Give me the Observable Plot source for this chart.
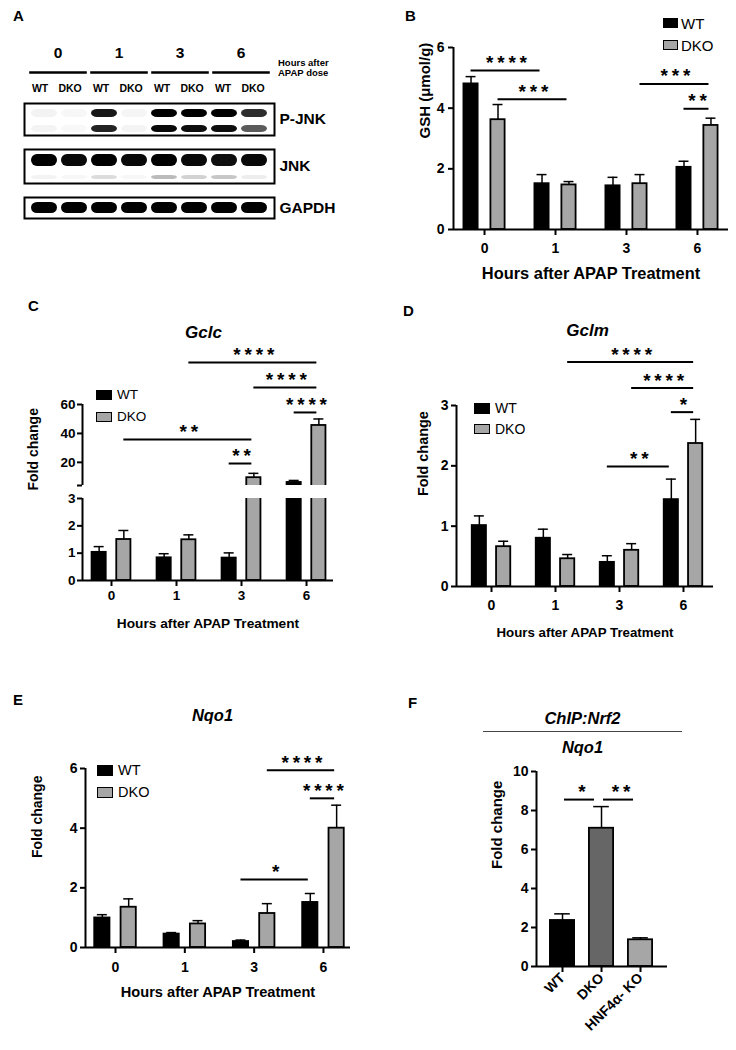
<!DOCTYPE html>
<html>
<head>
<meta charset="utf-8">
<script src="https://cdn.jsdelivr.net/npm/d3@7"></script>
<script src="https://cdn.jsdelivr.net/npm/@observablehq/plot@0.6"></script>
<style>
  html, body { margin: 0; padding: 0; background: #fff; }
  #fig { position: relative; width: 736px; height: 1050px; overflow: hidden; font-family: "Liberation Sans", Arial, Helvetica, sans-serif; color: #000; }
  .lbl { position: absolute; font-weight: bold; line-height: 1; white-space: nowrap; }
</style>
</head>
<body>
<div id="fig"></div>
<script>
// ---------------- data ----------------
const hours = ["0", "1", "3", "6"];
const genotypes = ["WT", "DKO"];
const genoColors = ["#000000", "#a6a6a6"];
const xTitle = "Hours after APAP Treatment";

// Panel A: western blot band intensities, lanes in order 0-WT,0-DKO,1-WT,...,6-DKO
const pJnkUpper = [0.06, 0.03, 0.92, 0.04, 1.0, 1.0, 1.0, 0.85];
const pJnkLower = [0.05, 0.02, 0.88, 0.05, 0.97, 0.95, 0.95, 0.7];
const jnkMain   = [1.0, 0.97, 1.0, 0.97, 1.0, 0.97, 0.95, 0.97];
const jnkLower  = [0.06, 0.03, 0.2, 0.03, 0.35, 0.25, 0.3, 0.1];
const gapdh     = [1.0, 1.0, 1.0, 1.0, 1.0, 1.0, 1.0, 1.0];

// Panel B: GSH (umol/g)
const gshWT = [4.8, 1.51, 1.44, 2.05];
const gshWTsem = [0.24, 0.3, 0.28, 0.2];
const gshDKO = [3.62, 1.47, 1.51, 3.43];
const gshDKOsem = [0.5, 0.11, 0.3, 0.24];
const sigB = [
  {from: ["0", "WT"], to: ["1", "WT"], level: 5.24, label: "****"},
  {from: ["0", "DKO"], to: ["1", "DKO"], level: 4.29, label: "***"},
  {from: ["3", "DKO"], to: ["6", "DKO"], level: 4.8, label: "***"},
  {from: ["6", "WT"], to: ["6", "DKO"], level: 3.98, label: "**"}
];

// Panel C: Gclc fold change
const gclcWT = [1.03, 0.83, 0.82, 6.1];
const gclcWTsem = [0.21, 0.15, 0.19, 1.4];
const gclcDKO = [1.5, 1.49, 9.4, 45.5];
const gclcDKOsem = [0.33, 0.18, 3.0, 4.5];
const sigC = [
  {from: ["1", "DKO"], to: ["6", "DKO"], level: 89, label: "****"},
  {from: ["3", "DKO"], to: ["6", "DKO"], level: 71.8, label: "****"},
  {from: ["6", "WT"], to: ["6", "DKO"], level: 54.5, label: "****"},
  {from: ["0", "DKO"], to: ["3", "DKO"], level: 35.8, label: "**"},
  {from: ["3", "WT"], to: ["3", "DKO"], level: 19.2, label: "**"}
];

// Panel D: Gclm fold change
const gclmWT = [1.01, 0.8, 0.4, 1.44];
const gclmWTsem = [0.16, 0.15, 0.11, 0.34];
const gclmDKO = [0.66, 0.46, 0.6, 2.37];
const gclmDKOsem = [0.09, 0.07, 0.11, 0.4];
const sigD = [
  {from: ["1", "DKO"], to: ["6", "DKO"], level: 3.72, label: "****"},
  {from: ["3", "DKO"], to: ["6", "DKO"], level: 3.29, label: "****"},
  {from: ["6", "WT"], to: ["6", "DKO"], level: 2.89, label: "*"},
  {from: ["3", "WT"], to: ["6", "WT"], level: 1.99, label: "**"}
];

// Panel E: Nqo1 fold change
const nqoWT = [0.99, 0.45, 0.2, 1.51];
const nqoWTsem = [0.11, 0.05, 0.05, 0.3];
const nqoDKO = [1.35, 0.79, 1.14, 4.0];
const nqoDKOsem = [0.28, 0.11, 0.33, 0.77];
const sigE = [
  {from: ["3", "DKO"], to: ["6", "DKO"], level: 5.94, label: "****"},
  {from: ["6", "WT"], to: ["6", "DKO"], level: 5.0, label: "****"},
  {from: ["3", "WT"], to: ["6", "WT"], level: 2.28, label: "*"}
];

// Panel F: ChIP Nrf2 on Nqo1
const chipGroups = ["WT", "DKO", "HNF4\u03b1- KO"];
const chipColors = ["#000000", "#666666", "#a6a6a6"];
const chipMean = [2.36, 7.09, 1.37];
const chipSem = [0.34, 1.11, 0.1];
const sigF = [
  {from: "WT", to: "DKO", level: 8.56, label: "*"},
  {from: "DKO", to: "HNF4\u03b1- KO", level: 8.56, label: "**"}
];

// ---------------- helpers ----------------
const FONT = '"Liberation Sans", Arial, Helvetica, sans-serif';
const fig = document.getElementById("fig");
const svgStyle = (fs) => ({background: "transparent", overflow: "visible", fontFamily: FONT, fontSize: fs + "px", fontWeight: "bold", color: "#000"});
function place(el, left, top) {
  el.style.position = "absolute";
  el.style.left = left + "px";
  el.style.top = top + "px";
  fig.appendChild(el);
  return el;
}
function label(text, left, top, size, extra = "") {
  const d = document.createElement("div");
  d.className = "lbl";
  d.style.cssText += `left:${left}px;top:${top}px;font-size:${size}px;${extra}`;
  d.innerHTML = text;
  fig.appendChild(d);
  return d;
}
function addLegend(left, top, gap, swW, swH, font, textGap) {
  genotypes.forEach((g, i) => {
    const row = document.createElement("div");
    row.style.cssText = `position:absolute;left:${left}px;top:${top + i * gap}px;height:${swH}px;display:flex;align-items:center;font-size:${font}px;font-family:${FONT};white-space:nowrap;`;
    const sw = document.createElement("span");
    sw.style.cssText = `display:inline-block;flex:none;width:${swW}px;height:${swH}px;background:${genoColors[i]};border:1.5px solid #000;box-sizing:border-box;`;
    const tx = document.createElement("span");
    tx.textContent = g;
    tx.style.cssText = `margin-left:${textGap}px;line-height:1;`;
    row.append(sw, tx);
    fig.appendChild(row);
  });
}
const off = {WT: -0.19, DKO: 0.19};
const groupedRows = (wt, wtSem, dko, dkoSem) => hours.flatMap((h, i) => [
  {key: h, geno: "WT", mean: wt[i], err: wtSem[i]},
  {key: h, geno: "DKO", mean: dko[i], err: dkoSem[i]}
]);
const gPos = (d) => hours.indexOf(d.key) + off[d.geno];
const gSigPos = (k) => hours.indexOf(k[0]) + off[k[1]];
const starText = (s) => s.split("").join("\u2009");

function barChart(c) {
  const {rows, pos, sigPos, fillKey = "geno", color, hw, capW, xDomain, yDomain, yTicks,
    yTickFormat = (d) => d, width, height, m, tickFont, yTickPadding = 4,
    xTicks = null, xTickFormat, xTickPadding = 6, xTickRotate = 0,
    sig = [], sigInsetL = 0, sigInsetR = 2, titles = [], xLabel = null, xLabelDy, xLabelFont,
    yLabel = null, yLabelDx, yLabelDy = 0, yLabelFont, clip = false, rowFilter = () => true} = c;
  const data = rows.filter(rowFilter);
  const marks = [
    Plot.rectY(data, {x1: (d) => pos(d) - hw, x2: (d) => pos(d) + hw, y1: 0, y2: "mean", fill: fillKey, stroke: "#000", strokeWidth: 1.8, clip}),
    Plot.ruleX(data, {x: pos, y1: "mean", y2: (d) => d.mean + d.err, strokeWidth: 1.5, clip}),
    Plot.ruleY(data, {y: (d) => d.mean + d.err, x1: (d) => pos(d) - capW, x2: (d) => pos(d) + capW, strokeWidth: 1.5, clip}),
    Plot.ruleX([xDomain[0]], {y1: yDomain[0], y2: yDomain[1], strokeWidth: 2}),
    Plot.axisY(yTicks, {tickSize: 5, tickPadding: yTickPadding, tickFormat: yTickFormat, strokeWidth: 2, fontSize: tickFont, label: null})
  ];
  if (xTicks) {
    marks.push(Plot.ruleY([yDomain[0]], {strokeWidth: 2}));
    marks.push(Plot.axisX(xTicks, {tickSize: 6, tickPadding: xTickPadding, tickFormat: xTickFormat, tickRotate: xTickRotate, strokeWidth: 2, fontSize: tickFont, label: null}));
  }
  if (sig.length) {
    marks.push(Plot.ruleY(sig, {y: "level", x1: (d) => sigPos(d.from), x2: (d) => sigPos(d.to), strokeWidth: 2, insetLeft: sigInsetL, insetRight: sigInsetR}));
    marks.push(Plot.text(sig, {x: (d) => (sigPos(d.from) + sigPos(d.to)) / 2, y: "level", text: (d) => starText(d.label), lineAnchor: "bottom", dy: -1.5, fontSize: 19}));
  }
  for (const t of titles) {
    marks.push(Plot.text([t.text], {text: (d) => d, frameAnchor: "top", dx: t.dx, dy: t.dy, fontSize: t.size, fontStyle: "italic", lineAnchor: "middle"}));
  }
  if (xLabel) marks.push(Plot.text([xLabel], {text: (d) => d, frameAnchor: "bottom", dy: xLabelDy, fontSize: xLabelFont, lineAnchor: "middle"}));
  if (yLabel) marks.push(Plot.text([yLabel], {text: (d) => d, frameAnchor: "left", dx: yLabelDx, dy: yLabelDy, rotate: -90, fontSize: yLabelFont, lineAnchor: "middle"}));
  return Plot.plot({
    width, height,
    marginTop: m[0], marginRight: m[1], marginBottom: m[2], marginLeft: m[3],
    style: svgStyle(tickFont),
    x: {domain: xDomain, axis: xTicks ? undefined : null, label: null},
    y: {domain: yDomain, label: null},
    color: color,
    marks
  });
}

// ---------------- Panel A ----------------
const lanes = hours.flatMap((h) => genotypes.map((g) => ({hour: h, geno: g, id: `${h}-${g}`})));
const laneIds = lanes.map((d) => d.id);
const shade = (v) => d3.interpolateGreys(0.04 + 0.96 * v);

const header = Plot.plot({
  width: 280, height: 65,
  marginLeft: 26.9, marginRight: 8.9, marginTop: 35, marginBottom: 28,
  style: svgStyle(10.5),
  fx: {domain: hours, padding: 0, axis: null, label: null},
  x: {type: "band", domain: genotypes, paddingInner: 0.1, paddingOuter: 0.05, axis: null, label: null},
  marks: [
    Plot.frame({anchor: "bottom", insetLeft: 3, insetRight: 3, strokeWidth: 2.6}),
    Plot.text(hours, {fx: (d) => d, text: (d) => d, frameAnchor: "top", dy: -17, fontSize: 15.5, lineAnchor: "middle"}),
    Plot.text(lanes, {fx: "hour", x: "geno", text: "geno", frameAnchor: "bottom", dx: -3, dy: 16, fontSize: 10.5, lineAnchor: "middle"})
  ]
});
place(header, 0, 35);

function blot({rowsSpec, height, mT, mB, name}) {
  const marks = rowsSpec.map((r) => Plot.cell(lanes, {
    x: "id", y: () => r.row, fill: (d, i) => shade(r.values[i]),
    insetTop: r.insetTop, insetBottom: r.insetBottom, insetLeft: 0, insetRight: 0, rx: 6
  }));
  marks.push(Plot.frame({stroke: "#000", strokeWidth: 2}));
  marks.push(Plot.text([name], {text: (d) => d, frameAnchor: "right", dx: 5, textAnchor: "start", fontSize: 15.5, lineAnchor: "middle"}));
  return Plot.plot({
    width: 340, height, marginLeft: 24, marginRight: 66, marginTop: mT, marginBottom: mB,
    style: svgStyle(15),
    x: {domain: laneIds, paddingInner: 0.15, paddingOuter: 0.17, axis: null, label: null},
    y: {domain: rowsSpec.map((r) => r.row), padding: 0, axis: null, label: null},
    marks
  });
}
place(blot({name: "P-JNK", height: 50, mT: 8, mB: 10, rowsSpec: [
  {row: "upper", values: pJnkUpper, insetTop: 6, insetBottom: 2},
  {row: "lower", values: pJnkLower, insetTop: 6, insetBottom: 3}
]}), 0, 95);
place(blot({name: "JNK", height: 50, mT: 9, mB: 7, rowsSpec: [
  {row: "main", values: jnkMain, insetTop: 5, insetBottom: 0},
  {row: "lower", values: jnkLower, insetTop: 9, insetBottom: 4}
]}), 0, 140);
place(blot({name: "GAPDH", height: 35, mT: 7, mB: 7, rowsSpec: [
  {row: "gapdh", values: gapdh, insetTop: 5, insetBottom: 5}
]}), 0, 190);
label("Hours after<br>APAP dose", 278, 58, 9.5, "line-height:10px;");

// ---------------- Panel B ----------------
const genoColor = {domain: genotypes, range: genoColors};
place(barChart({
  rows: groupedRows(gshWT, gshWTsem, gshDKO, gshDKOsem), pos: gPos, sigPos: gSigPos, color: genoColor,
  hw: 0.1, capW: 0.07, xDomain: [-0.437, 3.437], yDomain: [0, 6], yTicks: [0, 2, 4, 6],
  width: 336, height: 290, m: [47, 8, 61, 53], tickFont: 14, yTickPadding: 4,
  xTicks: [0, 1, 2, 3], xTickFormat: (i) => hours[i], xTickPadding: 8,
  sig: sigB, xLabel: xTitle, xLabelDy: 44, xLabelFont: 16.4,
  yLabel: "GSH (\u03bcmol/g)", yLabelDx: -28, yLabelFont: 15
}), 400, 0);
addLegend(663, 18, 22, 15, 10, 15, 3);

// ---------------- Panel C (broken axis) ----------------
const gclcRows = groupedRows(gclcWT, gclcWTsem, gclcDKO, gclcDKOsem);
place(barChart({
  rows: gclcRows, pos: gPos, sigPos: gSigPos, color: genoColor, rowFilter: (d) => d.mean > 4, clip: true,
  hw: 0.109, capW: 0.077, xDomain: [-0.446, 3.415], yDomain: [4, 60], yTicks: [4, 20, 40, 60],
  yTickFormat: (d) => (d === 4 ? "" : d), yTickPadding: 2,
  width: 340, height: 200, m: [114, 7, 5, 82], tickFont: 13.5,
  sig: sigC, titles: [{text: "Gclc", dx: -4.5, dy: -72, size: 17}]
}), 0, 290);
place(barChart({
  rows: gclcRows, pos: gPos, sigPos: gSigPos, color: genoColor, clip: true,
  hw: 0.109, capW: 0.077, xDomain: [-0.446, 3.415], yDomain: [0, 3], yTicks: [0, 1, 2, 3], yTickPadding: 2,
  width: 340, height: 160, m: [8, 7, 70, 82], tickFont: 13.5,
  xTicks: [0, 1, 2, 3], xTickFormat: (i) => hours[i], xTickPadding: 4,
  xLabel: xTitle, xLabelDy: 43, xLabelFont: 13.7,
  yLabel: "Fold change", yLabelDx: -49, yLabelDy: -49, yLabelFont: 14
}), 0, 490);
addLegend(96, 390, 22, 16, 10, 13.5, 5);

// ---------------- Panel D ----------------
place(barChart({
  rows: groupedRows(gclmWT, gclmWTsem, gclmDKO, gclmDKOsem), pos: gPos, sigPos: gSigPos, color: genoColor,
  hw: 0.111, capW: 0.078, xDomain: [-0.547, 3.469], yDomain: [0, 3], yTicks: [0, 1, 2, 3], yTickPadding: 3,
  width: 368, height: 360, m: [115, 23, 64, 88], tickFont: 14,
  xTicks: [0, 1, 2, 3], xTickFormat: (i) => hours[i], xTickPadding: 8,
  sig: sigD, titles: [{text: "Gclm", dx: 2.5, dy: -75, size: 17}],
  xLabel: xTitle, xLabelDy: 46, xLabelFont: 13.3,
  yLabel: "Fold change", yLabelDx: -33, yLabelFont: 14.4
}), 368, 290);
addLegend(474, 403, 20.5, 16, 10.5, 14, 5);

// ---------------- Panel E ----------------
place(barChart({
  rows: groupedRows(nqoWT, nqoWTsem, nqoDKO, nqoDKOsem), pos: gPos, sigPos: gSigPos, color: genoColor,
  hw: 0.11, capW: 0.072, xDomain: [-0.433, 3.39], yDomain: [0, 6], yTicks: [0, 2, 4, 6], yTickPadding: 3,
  width: 368, height: 330, m: [78, 18, 73, 85], tickFont: 14,
  xTicks: [0, 1, 2, 3], xTickFormat: (i) => hours[i], xTickPadding: 9,
  sig: sigE, titles: [{text: "Nqo1", dx: -5.5, dy: -53, size: 16.5}],
  xLabel: xTitle, xLabelDy: 45, xLabelFont: 14.6,
  yLabel: "Fold change", yLabelDx: -48, yLabelFont: 14
}), 0, 690);
addLegend(97, 765, 22, 16, 11, 14.5, 5);

// ---------------- Panel F ----------------
const chipRows = chipGroups.map((g, i) => ({key: g, group: g, mean: chipMean[i], err: chipSem[i]}));
place(barChart({
  rows: chipRows, pos: (d) => chipGroups.indexOf(d.key), sigPos: (k) => chipGroups.indexOf(k),
  fillKey: "group", color: {domain: chipGroups, range: chipColors},
  hw: 0.31, capW: 0.2, xDomain: [-0.667, 2.692], yDomain: [0, 10], yTicks: [0, 2, 4, 6, 8, 10], yTickPadding: 3,
  width: 336, height: 360, m: [81, 69, 84, 136], tickFont: 14,
  xTicks: [0, 1, 2], xTickFormat: (i) => chipGroups[i], xTickRotate: -45, xTickPadding: 3,
  sig: sigF, sigInsetL: 2, sigInsetR: 7,
  titles: [{text: "ChIP:Nrf2", dx: -19.5, dy: -53, size: 16.5}, {text: "Nqo1", dx: -19.5, dy: -24, size: 16.5}],
  yLabel: "Fold change", yLabelDx: -39, yLabelFont: 15
}), 400, 690);
const rule = document.createElement("div");
rule.style.cssText = "position:absolute;left:483px;top:731px;width:199px;height:0;border-top:1.2px solid #444;";
fig.appendChild(rule);

// ---------------- panel letters ----------------
label("A", 13, 8, 15);
label("B", 405, 8, 15);
label("C", 28, 298, 15);
label("D", 403, 303, 15);
label("E", 13, 692, 15);
label("F", 408, 695, 15);
</script>
</body>
</html>
